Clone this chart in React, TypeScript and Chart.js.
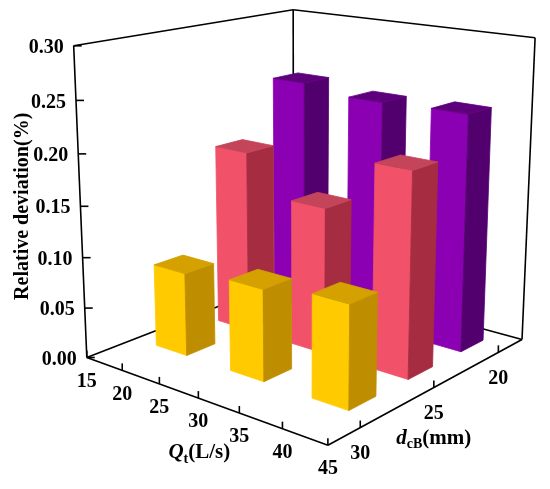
import React, { useEffect, useRef } from "react";
import { Chart, registerables } from "chart.js";

Chart.register(...registerables);

// ---------- data ----------
const qtColumns = [20, 30, 40]; // Qt (L/s) of the bar columns
const dcbRows = [20.1, 24.1, 28.15]; // dcB (mm) position of each bar row (back -> front)
const seriesDcb20 = [0.239, 0.232, 0.234]; // purple row
const seriesDcb25 = [0.183, 0.145, 0.198]; // pink row
const seriesDcb30 = [0.0825, 0.089, 0.098]; // yellow row
const qtTicks = [15, 20, 25, 30, 35, 40, 45];
const dcbTicks = [20, 25, 30];
const zTicks = [0, 0.05, 0.1, 0.15, 0.2, 0.25, 0.3];

// ---------- axes ranges ----------
const QT_MIN = 15, QT_MAX = 45;
const DCB_MIN = 18, DCB_MAX = 32;
const Z_MIN = 0, Z_MAX = 0.3;

// ---------- styles / geometry ----------
const rowColors = [
  { front: "#8B00B2", side: "#52006E", top: "#5E007C" },
  { front: "#F2516A", side: "#A52C41", top: "#C4455A" },
  { front: "#FFCB00", side: "#BE8E00", top: "#D4A100" },
];
const BAR_HALF_QT = 2.1;
const BAR_HALF_DCB = 0.9;
const BOX = { lx: 1, ly: 1.039, lz: 1.018 };
const CAM = { x: 3.197, y: 3.793, z: 1.702, yaw: 39.8, pitch: 14.65 };
const VIEW = { cx: 301, cy: 174, focal: 1377, w: 550, h: 489 };
const FONT = "'Liberation Serif', 'Times New Roman', serif";

const DEG = Math.PI / 180;
const cyw = Math.cos(CAM.yaw * DEG), syw = Math.sin(CAM.yaw * DEG);
const cp = Math.cos(CAM.pitch * DEG), sp = Math.sin(CAM.pitch * DEG);
const RIGHT = [cyw, -syw, 0];
const UP = [-syw * sp, -cyw * sp, cp];
const FWD = [-syw * cp, -cyw * cp, -sp];
const dot = (a: number[], b: number[]) => a[0] * b[0] + a[1] * b[1] + a[2] * b[2];

function toWorld(qt: number, dcb: number, z: number) {
  return [
    ((qt - QT_MIN) / (QT_MAX - QT_MIN)) * BOX.lx,
    ((dcb - DCB_MIN) / (DCB_MAX - DCB_MIN)) * BOX.ly,
    ((z - Z_MIN) / (Z_MAX - Z_MIN)) * BOX.lz,
  ];
}
function projectView(qt: number, dcb: number, z: number) {
  const w = toWorld(qt, dcb, z);
  const d = [w[0] - CAM.x, w[1] - CAM.y, w[2] - CAM.z];
  const depth = dot(d, FWD);
  return { vx: dot(d, RIGHT) / depth, vy: dot(d, UP) / depth, depth };
}

const bars3dPlugin = {
  id: "bars3d",
  afterDraw(chart: any) {
    const ctx: CanvasRenderingContext2D = chart.ctx;
    const xs = chart.scales.x;
    const ys = chart.scales.y;
    const P = (qt: number, dcb: number, z: number) => {
      const p = projectView(qt, dcb, z);
      return { x: xs.getPixelForValue(p.vx), y: ys.getPixelForValue(p.vy), d: p.depth };
    };
    ctx.save();

    // ---- box frame ----
    ctx.strokeStyle = "#000";
    ctx.lineWidth = 1.6;
    ctx.lineJoin = "round";
    const line = (a: any, b: any) => {
      ctx.beginPath();
      ctx.moveTo(a.x, a.y);
      ctx.lineTo(b.x, b.y);
      ctx.stroke();
    };
    const c = {
      lb: P(QT_MIN, DCB_MAX, Z_MIN), lt: P(QT_MIN, DCB_MAX, Z_MAX),
      fb: P(QT_MAX, DCB_MAX, Z_MIN),
      rb: P(QT_MAX, DCB_MIN, Z_MIN), rt: P(QT_MAX, DCB_MIN, Z_MAX),
      bb: P(QT_MIN, DCB_MIN, Z_MIN), bt: P(QT_MIN, DCB_MIN, Z_MAX),
    };
    line(c.lb, c.lt); line(c.bb, c.bt); line(c.rb, c.rt);
    line(c.lt, c.bt); line(c.bt, c.rt);
    line(c.lb, c.bb); line(c.bb, c.rb);
    line(c.lb, c.fb); line(c.fb, c.rb);

    // ---- ticks & labels ----
    ctx.fillStyle = "#000";
    ctx.font = `bold 20px ${FONT}`;
    ctx.textBaseline = "middle";
    // Z axis
    ctx.textAlign = "right";
    zTicks.forEach((z) => {
      const p = P(QT_MIN, DCB_MAX, z);
      line(p, { x: p.x + 8, y: p.y });
      ctx.fillText(z.toFixed(2), p.x - 10, p.y + 2);
    });
    // Qt axis
    ctx.textAlign = "center";
    qtTicks.forEach((q) => {
      const p = P(q, DCB_MAX, Z_MIN);
      line(p, { x: p.x, y: p.y - 7 });
      ctx.fillText(String(q), p.x, p.y + 24);
    });
    // dcB axis
    dcbTicks.forEach((d) => {
      const p = P(QT_MAX, d, Z_MIN);
      line(p, { x: p.x, y: p.y - 7 });
      ctx.fillText(String(d), p.x, p.y + 26);
    });

    // ---- axis titles ----
    const rich = (parts: { t: string; f: string; dy: number }[], cx: number, baseY: number) => {
      let total = 0;
      parts.forEach((pt) => { ctx.font = pt.f; total += ctx.measureText(pt.t).width; });
      let x = cx - total / 2;
      ctx.textAlign = "left";
      ctx.textBaseline = "alphabetic";
      parts.forEach((pt) => {
        ctx.font = pt.f;
        ctx.fillText(pt.t, x, baseY + pt.dy);
        x += ctx.measureText(pt.t).width;
      });
    };
    const qtMid = P((QT_MIN + QT_MAX) / 2, DCB_MAX, Z_MIN);
    rich(
      [
        { t: "Q", f: `italic bold 21px ${FONT}`, dy: 0 },
        { t: "t", f: `bold 14px ${FONT}`, dy: 5 },
        { t: "(L/s)", f: `bold 21px ${FONT}`, dy: 0 },
      ],
      qtMid.x + 1, qtMid.y + 60
    );
    const dMid = P(QT_MAX, (dcbTicks[0] + dcbTicks[2]) / 2, Z_MIN);
    rich(
      [
        { t: "d", f: `italic bold 21px ${FONT}`, dy: 0 },
        { t: "cB", f: `bold 14px ${FONT}`, dy: 4 },
        { t: "(mm)", f: `bold 21px ${FONT}`, dy: 0 },
      ],
      dMid.x, dMid.y + 57
    );
    const zMid = P(QT_MIN, DCB_MAX, (Z_MIN + Z_MAX) / 2);
    ctx.save();
    ctx.translate(zMid.x - 58, zMid.y);
    ctx.rotate(-Math.PI / 2);
    ctx.font = `bold 20px ${FONT}`;
    ctx.textAlign = "center";
    ctx.textBaseline = "middle";
    ctx.fillText("Relative deviation(%)", 0, 0);
    ctx.restore();

    // ---- bars ----
    const series = [seriesDcb20, seriesDcb25, seriesDcb30];
    const bars: any[] = [];
    series.forEach((vals, i) => {
      vals.forEach((v, j) => {
        const q = qtColumns[j];
        const d = dcbRows[i];
        bars.push({ q, d, v, col: rowColors[i], depth: P(q, d, v / 2).d });
      });
    });
    bars.sort((a, b) => b.depth - a.depth);
    const face = (pts: any[], color: string) => {
      ctx.beginPath();
      pts.forEach((p, k) => (k ? ctx.lineTo(p.x, p.y) : ctx.moveTo(p.x, p.y)));
      ctx.closePath();
      ctx.fillStyle = color;
      ctx.strokeStyle = color;
      ctx.lineWidth = 0.8;
      ctx.fill();
      ctx.stroke();
    };
    bars.forEach((b) => {
      const q0 = b.q - BAR_HALF_QT, q1 = b.q + BAR_HALF_QT;
      const d0 = b.d - BAR_HALF_DCB, d1 = b.d + BAR_HALF_DCB;
      face([P(q0, d1, 0), P(q1, d1, 0), P(q1, d1, b.v), P(q0, d1, b.v)], b.col.front);
      face([P(q1, d1, 0), P(q1, d0, 0), P(q1, d0, b.v), P(q1, d1, b.v)], b.col.side);
      face([P(q0, d0, b.v), P(q1, d0, b.v), P(q1, d1, b.v), P(q0, d1, b.v)], b.col.top);
    });
    ctx.restore();
  },
};

export default function App() {
  const ref = useRef<HTMLCanvasElement | null>(null);
  useEffect(() => {
    document.body.style.margin = "0";
    if (!ref.current) return;
    const chart = new Chart(ref.current, {
      type: "scatter",
      data: { datasets: [] },
      options: {
        animation: false,
        responsive: true,
        maintainAspectRatio: false,
        layout: { padding: 0 },
        plugins: { legend: { display: false }, tooltip: { enabled: false } },
        scales: {
          x: { type: "linear", display: false, min: -VIEW.cx / VIEW.focal, max: (VIEW.w - VIEW.cx) / VIEW.focal },
          y: { type: "linear", display: false, min: -(VIEW.h - VIEW.cy) / VIEW.focal, max: VIEW.cy / VIEW.focal },
        },
      },
      plugins: [bars3dPlugin],
    });
    return () => chart.destroy();
  }, []);
  return (
    <div style={{ width: 550, height: 489, position: "relative", background: "#fff" }}>
      <canvas ref={ref} />
    </div>
  );
}
